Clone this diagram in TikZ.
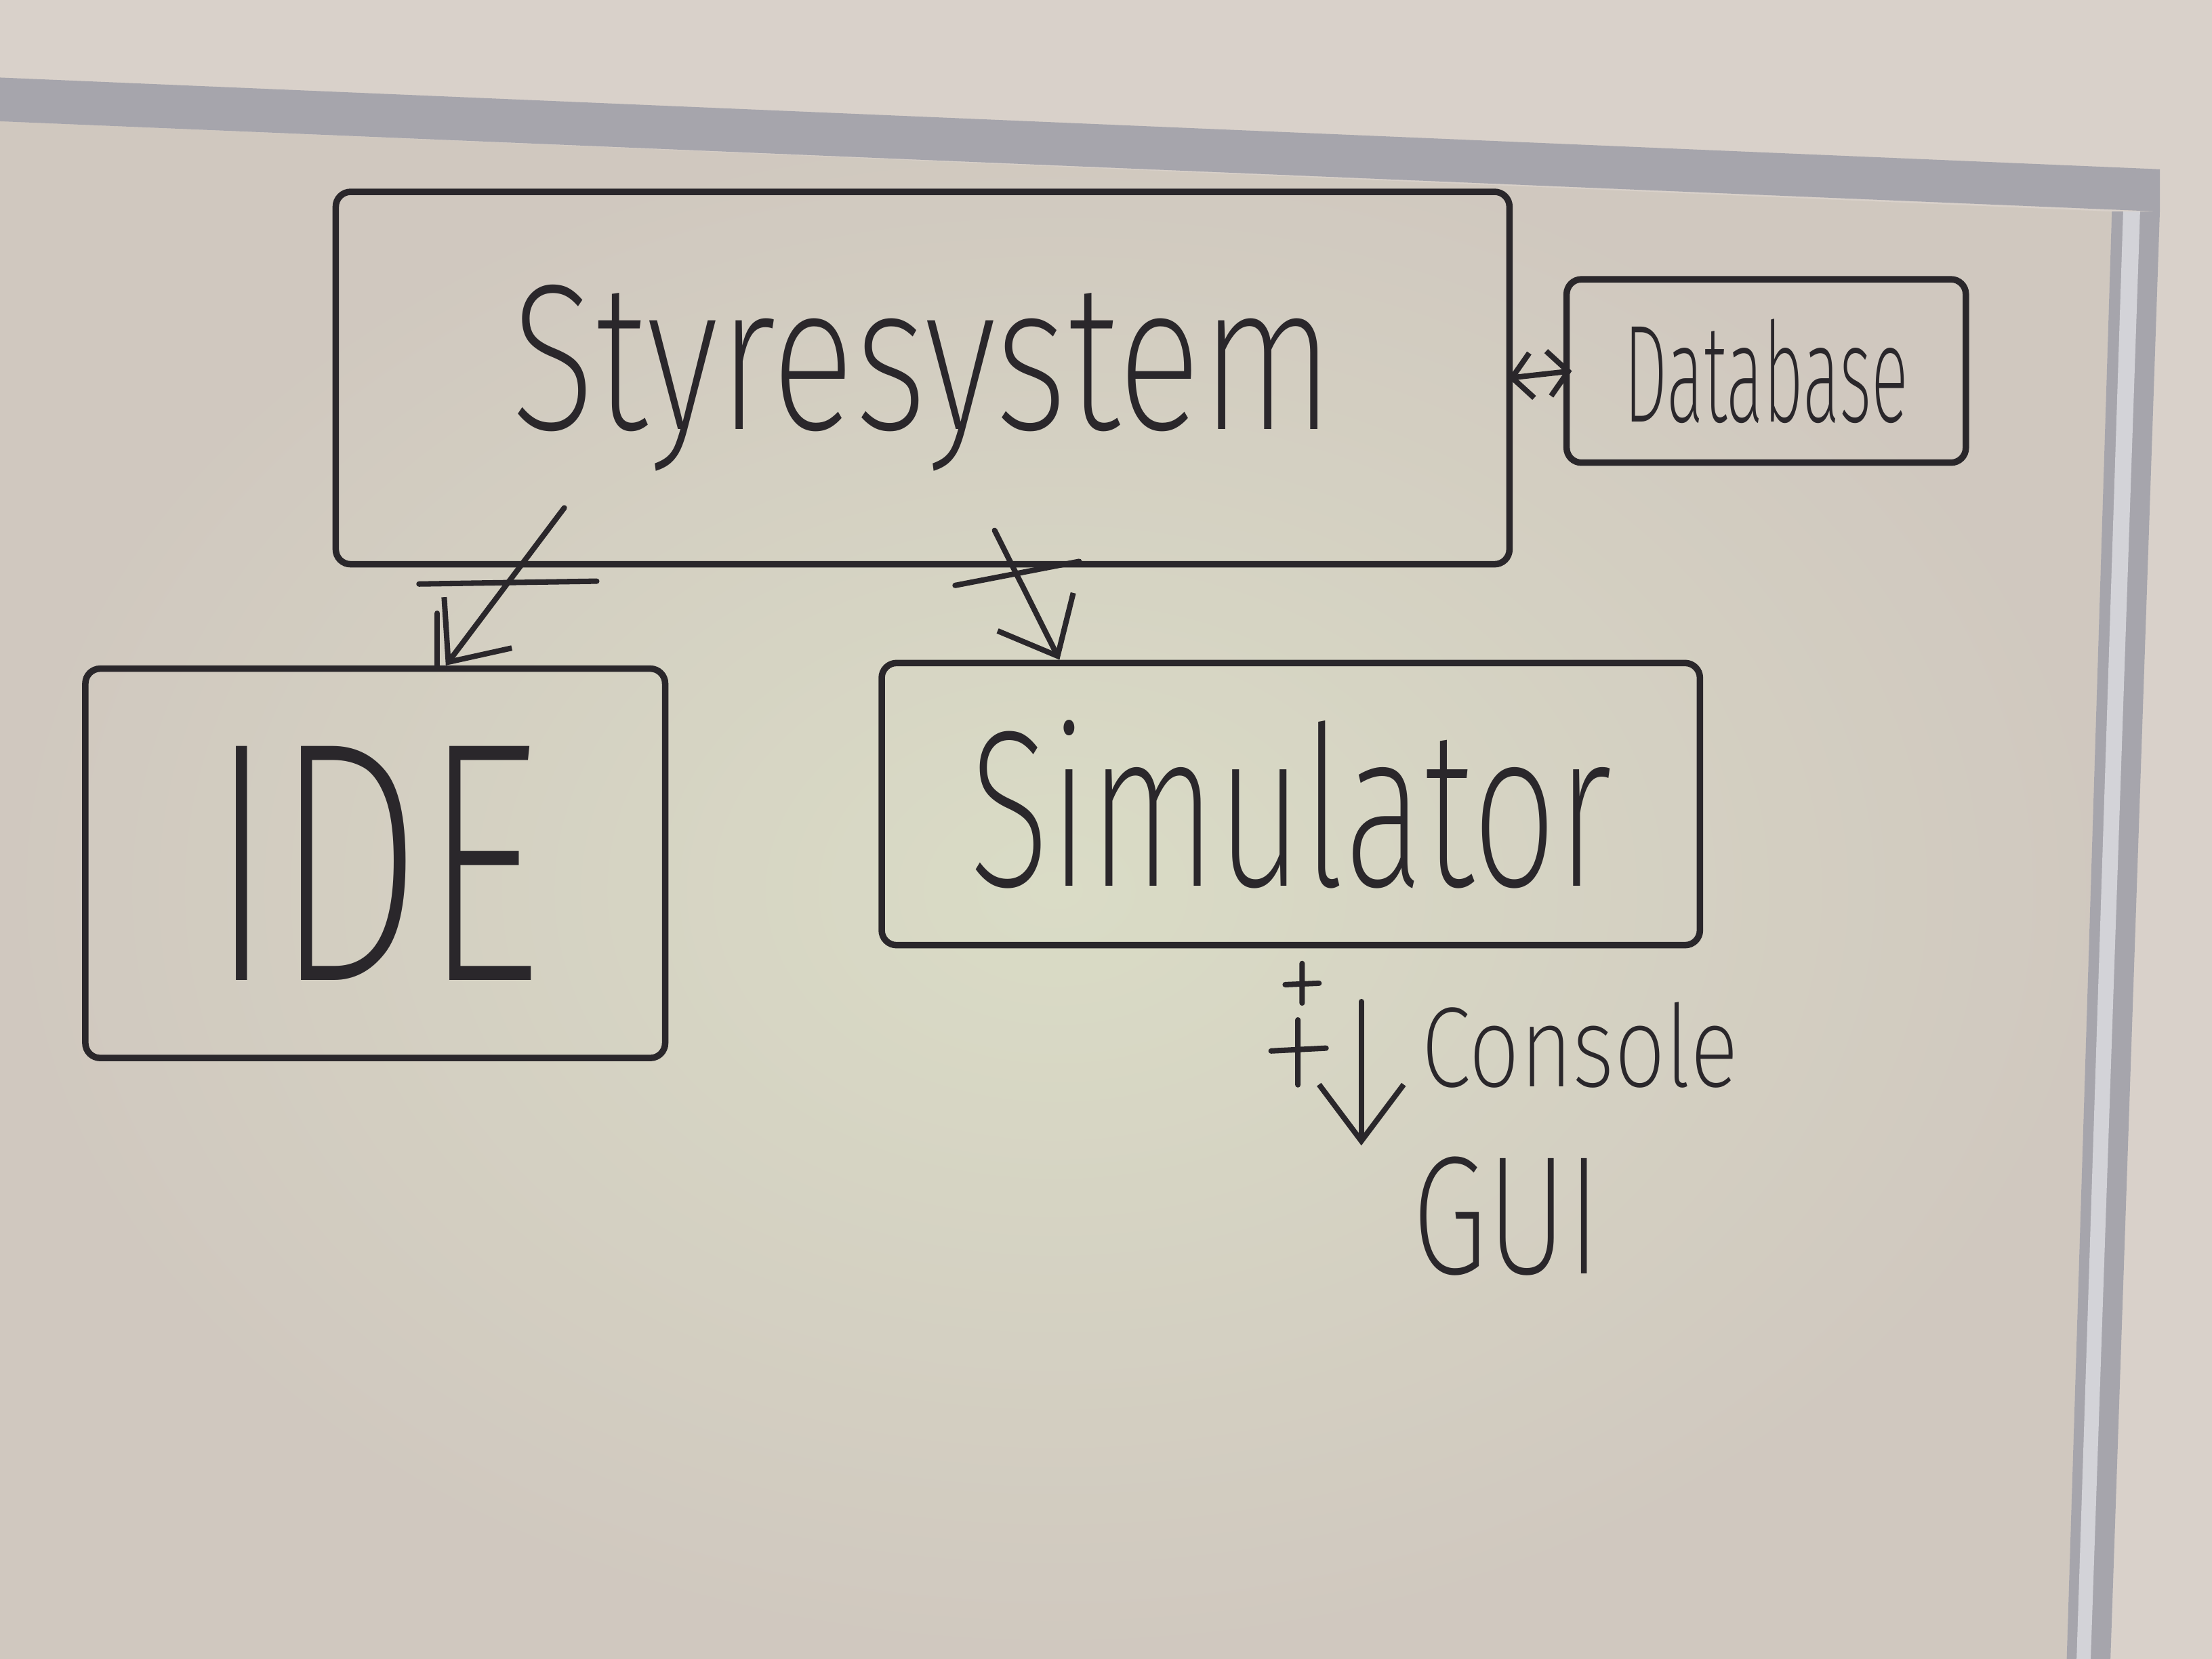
\documentclass[tikz,border=0pt]{standalone}
\usepackage{fontspec}
\newfontfamily\hand{Fira Sans ExtraLight}
\usepackage{tikz}
\usetikzlibrary{positioning,arrows.meta}
\definecolor{wallbeige}{HTML}{D9D1CA}
\definecolor{boardtone}{HTML}{D0C8BF}
\definecolor{boardglow}{HTML}{DADCC6}
\definecolor{framegrey}{HTML}{A6A5AC}
\definecolor{framelight}{HTML}{D3D3D8}
\definecolor{ink}{HTML}{2A272B}
\newcommand{\squeeze}[2]{\scalebox{#1}[1]{#2}}

\begin{document}
\begin{tikzpicture}[
    box/.style={draw=ink, line width=1.3pt, rounded corners=3pt, inner sep=0pt,
                text=ink},
    link/.style={draw=ink, line width=1.1pt, line cap=round,
                 -{Straight Barb[length=3.5mm,width=6mm]}},
    stroke/.style={draw=ink, line width=1.1pt, line cap=round},
    scrawl/.style={text=ink, inner sep=0pt},
]
\fill[wallbeige] (0,0) rectangle (15.68,11.76);
\shade[inner color=boardglow, outer color=boardtone]
    (0,10.90) -- (14.97,10.26) -- (14.65,0) -- (0,0) -- cycle;
\fill[framegrey] (0,11.21) -- (15.31,10.56) -- (15.31,10.26) -- (0,10.90) -- cycle;
\fill[framegrey] (14.97,10.26) -- (15.31,10.26) -- (14.96,0) -- (14.65,0) -- cycle;
\fill[framelight] (15.05,10.26) -- (15.17,10.26) -- (14.82,0) -- (14.72,0) -- cycle;
\useasboundingbox (0,0) rectangle (15.68,11.76);

\node[box, minimum width=8.32cm, minimum height=2.64cm,
      font=\hand\fontsize{42}{42}\selectfont] (styr) at (6.54,9.08)
    {\squeeze{0.75}{Styresystem}};
\node[box, minimum width=2.83cm, minimum height=1.30cm,
      font=\hand\fontsize{28}{28}\selectfont] (db) at (12.52,9.13)
    {\squeeze{0.5}{Database}};
\node[box, minimum width=4.11cm, minimum height=2.76cm,
      font=\hand\fontsize{69}{69}\selectfont] (ide) at (2.66,5.64)
    {\squeeze{0.69}{IDE}};
\node[box, minimum width=5.80cm, minimum height=2.00cm,
      font=\hand\fontsize{45}{45}\selectfont] (sim) at (9.15,6.06)
    {\squeeze{0.67}{Simulator}};
\node[scrawl, font=\hand\fontsize{23}{23}\selectfont] (console) at (11.20,4.35)
    {\squeeze{0.79}{Console}};
\node[scrawl, font=\hand\fontsize{34}{34}\selectfont] (gui) at (10.68,3.14)
    {\squeeze{0.73}{GUI}};

\coordinate (ideTail) at (4.00,8.16);
\coordinate (simTail) at (7.05,8.00);
\coordinate (outTail) at (9.65,4.66);
\coordinate (outHead) at (9.65,3.64);

\draw[link] (ideTail) -- ([xshift=0.5cm]ide.north);
\draw[link] (simTail) -- ([xshift=-1.64cm]sim.north);
\draw[link, -{Straight Barb[length=4mm,width=6mm]}] (outTail) -- (outHead);
\draw[stroke, {Straight Barb[length=1.4mm,width=3.2mm]}-{Straight Barb[length=1.4mm,width=3.2mm]}]
    ([xshift=-0.03cm]styr.east) -- ([xshift=0.06cm]db.west);

\draw[stroke] (2.97,7.62) -- (4.23,7.64);
\draw[stroke] ([xshift=0.44cm]ide.north) -- ++(0,0.37);
\draw[stroke] (6.77,7.61) -- (7.65,7.78);
\draw[stroke] (9.11,4.78) -- (9.35,4.79) (9.23,4.65) -- (9.23,4.93);
\draw[stroke] (9.01,4.31) -- (9.40,4.33) (9.20,4.07) -- (9.20,4.53);
\end{tikzpicture}
\end{document}
